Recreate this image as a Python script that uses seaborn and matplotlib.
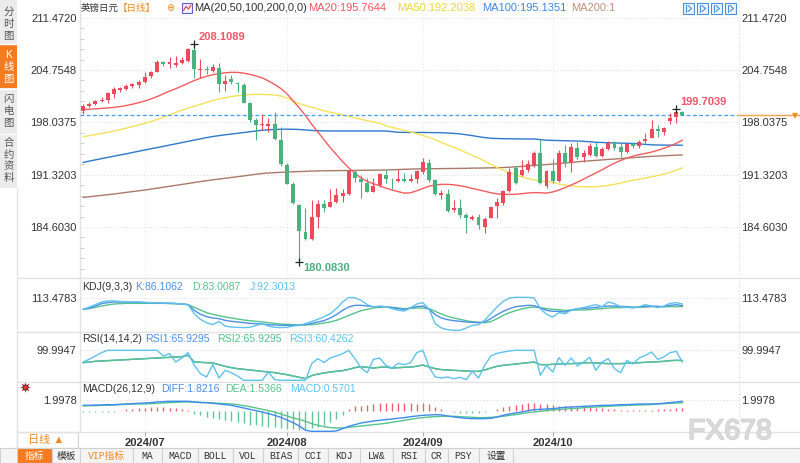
import numpy as np
import pandas as pd
import matplotlib
matplotlib.use("Agg")
import matplotlib.pyplot as plt
from matplotlib.patches import Rectangle
from matplotlib.ticker import FixedLocator
from matplotlib.transforms import blended_transform_factory
import matplotlib.patheffects as pe
import seaborn as sns

sns.set_theme(style="white")
plt.rcParams["font.family"] = ["Liberation Sans", "Noto Sans CJK SC", "DejaVu Sans"]
plt.rcParams["axes.unicode_minus"] = False

# ---------------- data (GBP/JPY daily) ----------------
start_date = "2024-06-17"

opens = [199.49, 200.20, 200.35, 200.80, 200.90, 201.68, 202.20, 202.32, 202.70, 202.83,
         203.26, 204.03, 204.54, 205.74, 205.57, 205.40, 205.66, 205.96, 207.33, 204.80,
         204.88, 204.63, 205.05, 202.92, 203.56, 203.00, 202.83, 200.48, 198.34, 197.65,
         197.60, 197.78, 195.77, 192.56, 190.08, 187.43, 183.92, 183.06, 185.93, 187.51,
         187.21, 187.77, 188.63, 188.80, 191.70, 190.77, 190.25, 189.14, 189.99, 191.28,
         190.50, 190.51, 190.72, 190.51, 190.77, 191.71, 192.78, 190.60, 188.71, 188.84,
         186.78, 187.00, 186.14, 185.60, 185.93, 184.65, 185.80, 187.34, 187.64, 189.23,
         192.14, 191.28, 191.88, 192.57, 194.06, 189.91, 191.80, 190.51, 194.06, 192.78,
         194.70, 193.63, 193.85, 194.92, 193.76, 194.62, 195.47, 194.92, 194.19, 195.21,
         195.04, 195.64, 196.07, 197.14, 196.84, 198.21, 198.77, 199.41]
highs = [200.40, 200.70, 200.90, 201.30, 201.98, 202.62, 202.60, 202.96, 203.13, 203.47,
         204.54, 204.63, 206.04, 205.91, 206.47, 206.55, 206.43, 207.54, 208.1089, 206.17,
         205.30, 205.48, 205.61, 204.10, 204.12, 203.26, 203.05, 200.69, 198.55, 199.07,
         198.55, 199.33, 197.48, 192.78, 190.42, 187.51, 187.00, 188.07, 188.07, 188.07,
         189.44, 189.57, 189.48, 191.93, 191.93, 191.28, 190.85, 190.85, 191.49, 191.97,
         190.85, 192.00, 191.49, 191.36, 191.93, 193.42, 193.33, 190.77, 189.35, 189.44,
         188.07, 188.16, 186.44, 186.14, 186.27, 185.93, 187.30, 188.37, 189.31, 192.14,
         192.44, 193.20, 193.20, 194.36, 195.90, 191.93, 193.33, 194.49, 195.13, 195.34,
         195.56, 194.49, 195.34, 195.47, 194.92, 195.64, 195.64, 195.34, 195.47, 195.47,
         195.77, 196.63, 198.34, 197.69, 197.48, 199.20, 199.7039, 199.50]
lows = [199.07, 200.00, 200.26, 200.70, 200.48, 201.10, 201.97, 202.15, 202.40, 202.40,
        203.05, 203.77, 204.46, 205.27, 204.97, 205.19, 205.57, 205.83, 203.69, 203.69,
        204.20, 204.54, 201.90, 202.06, 202.92, 201.98, 200.48, 198.13, 195.77, 197.06,
        196.84, 195.77, 192.48, 190.08, 187.51, 180.083, 182.93, 182.93, 184.52, 186.57,
        187.21, 187.64, 187.86, 188.71, 190.42, 188.28, 189.14, 189.05, 189.78, 190.20,
        189.48, 190.42, 190.42, 190.34, 190.20, 191.36, 190.42, 188.71, 188.20, 186.57,
        186.57, 185.72, 183.88, 185.50, 184.35, 183.88, 185.80, 185.80, 187.43, 189.14,
        190.08, 191.20, 191.71, 192.35, 190.08, 189.57, 190.21, 190.42, 192.35, 191.71,
        193.33, 192.91, 193.76, 193.63, 193.63, 194.49, 194.49, 193.63, 194.06, 194.70,
        194.70, 195.34, 195.98, 196.20, 196.41, 197.78, 197.91, 198.98]
closes = [200.14, 200.35, 200.78, 200.90, 201.76, 202.28, 202.40, 202.75, 202.92, 203.22,
          203.90, 204.46, 205.74, 205.49, 205.83, 205.66, 206.00, 207.45, 204.84, 204.88,
          204.80, 205.18, 202.92, 203.39, 203.17, 202.95, 200.56, 198.34, 197.70, 197.82,
          197.86, 195.90, 192.65, 190.12, 187.64, 184.09, 183.06, 185.93, 187.51, 187.00,
          187.77, 188.71, 188.93, 191.80, 190.94, 190.34, 189.14, 189.91, 191.36, 190.77,
          190.45, 190.72, 190.51, 190.77, 191.80, 192.90, 190.64, 188.80, 188.93, 186.66,
          186.99, 186.14, 185.72, 185.93, 184.86, 185.63, 187.17, 187.77, 189.23, 191.62,
          190.21, 191.93, 192.65, 194.06, 190.21, 191.80, 190.51, 194.06, 192.78, 194.92,
          193.63, 194.06, 195.05, 193.76, 194.62, 195.43, 194.79, 194.19, 195.21, 195.04,
          195.56, 195.90, 197.14, 196.93, 197.27, 198.64, 199.33, 198.94]

ma20 = [199.67, 199.72, 199.77, 199.83, 199.89, 199.96, 200.06, 200.20, 200.37, 200.56,
        200.78, 201.05, 201.35, 201.70, 202.05, 202.35, 202.70, 203.05, 203.40, 203.70,
        203.95, 204.15, 204.30, 204.40, 204.46, 204.45, 204.35, 204.20, 204.00, 203.75,
        203.35, 202.90, 202.40, 201.70, 200.80, 199.90, 198.90, 197.80, 196.80, 195.80,
        194.80, 193.90, 193.00, 192.20, 191.50, 190.90, 190.45, 190.15, 189.90, 189.60,
        189.35, 189.15, 188.95, 189.00, 189.25, 189.55, 189.85, 190.00, 190.08, 190.08,
        190.02, 189.90, 189.75, 189.55, 189.38, 189.20, 189.00, 188.85, 188.80, 188.78,
        188.80, 188.88, 188.97, 189.02, 189.00, 188.95, 189.10, 189.35, 189.65, 190.00,
        190.35, 190.75, 191.15, 191.55, 191.95, 192.40, 192.80, 193.15, 193.45, 193.70,
        193.90, 194.05, 194.22, 194.45, 194.70, 195.00, 195.35, 195.76]
ma50 = [196.20, 196.33, 196.47, 196.60, 196.75, 196.92, 197.10, 197.30, 197.50, 197.70,
        197.91, 198.15, 198.40, 198.70, 199.00, 199.30, 199.60, 199.85, 200.10, 200.35,
        200.60, 200.85, 201.05, 201.20, 201.35, 201.46, 201.55, 201.60, 201.63, 201.63,
        201.60, 201.55, 201.42, 201.15, 200.75, 200.45, 200.20, 199.98, 199.75, 199.52,
        199.33, 199.18, 199.00, 198.82, 198.62, 198.42, 198.25, 198.10, 197.92, 197.60,
        197.40, 197.20, 197.00, 196.82, 196.60, 196.35, 196.10, 195.80, 195.45, 195.13,
        194.82, 194.50, 194.15, 193.80, 193.45, 193.05, 192.65, 192.25, 191.90, 191.60,
        191.30, 191.05, 190.82, 190.65, 190.52, 190.43, 190.30, 190.12, 189.98, 189.88,
        189.80, 189.77, 189.76, 189.78, 189.85, 189.95, 190.08, 190.25, 190.45, 190.60,
        190.75, 190.90, 191.05, 191.22, 191.38, 191.62, 191.90, 192.20]
ma100 = [192.90, 193.06, 193.22, 193.38, 193.54, 193.70, 193.85, 194.00, 194.17, 194.33,
         194.49, 194.65, 194.80, 194.96, 195.12, 195.28, 195.44, 195.60, 195.76, 195.92,
         196.08, 196.22, 196.33, 196.44, 196.54, 196.63, 196.73, 196.83, 196.93, 197.02,
         197.08, 197.13, 197.15, 197.16, 197.15, 197.12, 197.06, 197.00, 196.96, 196.94,
         196.93, 196.93, 196.93, 196.93, 196.93, 196.93, 196.93, 196.93, 196.93, 196.93,
         196.85, 196.76, 196.75, 196.75, 196.74, 196.74, 196.73, 196.72, 196.71, 196.67,
         196.62, 196.56, 196.45, 196.33, 196.20, 196.08, 196.00, 195.96, 195.94, 195.93,
         195.92, 195.91, 195.90, 195.90, 195.82, 195.75, 195.72, 195.70, 195.68, 195.66,
         195.64, 195.60, 195.55, 195.48, 195.45, 195.42, 195.40, 195.37, 195.35, 195.32,
         195.27, 195.21, 195.15, 195.13, 195.12, 195.11, 195.11, 195.10]
ma200 = [188.41, 188.49, 188.58, 188.66, 188.75, 188.84, 188.94, 189.05, 189.15, 189.25,
         189.35, 189.47, 189.59, 189.71, 189.83, 189.95, 190.07, 190.19, 190.31, 190.43,
         190.55, 190.66, 190.76, 190.86, 190.96, 191.06, 191.16, 191.27, 191.38, 191.47,
         191.53, 191.58, 191.62, 191.66, 191.69, 191.72, 191.75, 191.78, 191.80, 191.82,
         191.83, 191.84, 191.85, 191.86, 191.87, 191.88, 191.89, 191.90, 191.91, 191.92,
         191.95, 191.98, 192.01, 192.04, 192.06, 192.07, 192.08, 192.09, 192.10, 192.11,
         192.12, 192.13, 192.14, 192.16, 192.17, 192.18, 192.20, 192.21, 192.24, 192.28,
         192.33, 192.38, 192.44, 192.50, 192.56, 192.62, 192.68, 192.75, 192.82, 192.90,
         192.97, 193.04, 193.10, 193.16, 193.22, 193.28, 193.33, 193.39, 193.45, 193.51,
         193.57, 193.62, 193.67, 193.71, 193.75, 193.79, 193.82, 193.85]

kdj_k = [72.5, 77.5, 85, 93.8, 97.5, 100, 100, 100, 98.8, 98.8, 97.5, 97.5, 96.3, 96.3, 95, 93.8,
         92.5, 90, 68.8, 53.8, 45, 40, 37.5, 31.3, 27.5, 25, 22.5, 20, 18.8, 17.5, 15, 13.8,
         12.5, 12.5, 12.5, 13.8, 15, 20, 25, 30, 40, 52.5, 68.8, 81.3, 87.5, 87.5, 85, 82.5,
         82.5, 82.5, 78.8, 75, 72.5, 77.5, 82.5, 85, 72.5, 52.5, 40, 33.8, 30, 27.5, 25, 23.8,
         22.5, 25, 37.5, 52.5, 65, 75, 82.5, 85, 87.5, 86.3, 77.5, 68.8, 65, 65, 62.5, 70,
         75, 76.3, 77.5, 80, 82.5, 85, 85, 83.8, 82.5, 80, 81.3, 83.8, 85, 83.8, 82.5, 87.5,
         90, 86.1]
kdj_d = [72.5, 75, 80, 85, 88.8, 92.5, 93.8, 95, 95, 95, 95, 95, 95, 95, 93.8, 93.8,
         92.5, 90, 80, 70, 60, 53.8, 48.8, 43.8, 40, 36.3, 32.5, 30, 27.5, 25, 22.5, 20,
         17.5, 16.3, 15, 13.8, 13.8, 15, 17.5, 21.3, 25, 31.3, 40, 50, 58.8, 67.5, 72.5, 77.5,
         80, 81.3, 80, 77.5, 75, 76.3, 77.5, 77.5, 75, 65, 55, 46.3, 40, 35, 30, 26.3,
         23.8, 22.5, 26.3, 37.5, 50, 60, 67.5, 73.8, 78.8, 81.3, 78.8, 75, 72.5, 71.3, 68.8, 68.8,
         70, 70, 71.3, 73.8, 75, 77.5, 78.8, 78.8, 80, 80, 80, 81.3, 82.5, 82.5, 82.5, 82.5,
         82.5, 83.0]
kdj_j = [72, 81, 90, 100, 104, 104, 102, 101, 100, 100, 99, 97, 97, 96, 96, 95,
         92, 90, 56, 35, 22, 15, 27, 10, 6, 5, 4, 5, 12, 18, 10, 5,
         4, 5, 10, 12, 19, 27, 35, 45, 56, 75, 100, 117, 116, 106, 90, 81,
         85, 82, 75, 68.8, 66.3, 77.5, 92.5, 97.5, 72.5, 18.8, 2.5, -3.8, -6.3, -6.3, 2.5, 12.5,
         15, 31.3, 56.3, 81.3, 102.5, 115, 117.5, 117.5, 117.5, 115, 75, 53.8, 43.8, 60, 56.3, 68.8,
         75, 78.8, 85, 90, 82.5, 100, 93.8, 81.3, 80, 77.5, 82.5, 90, 85, 78.8, 85, 95,
         97.5, 92.3]

rsi14 = [58.9, 61.1, 63.3, 64.4, 65.6, 66.7, 67.8, 68.9, 70, 71.1, 72.2, 73.3, 74.4, 75.6, 76.7, 77.8,
         78.9, 83.3, 61.1, 60, 58.9, 57.8, 52.2, 46.7, 42.2, 38.9, 36.7, 34.4, 32.2, 30, 27.8, 25.6,
         22.2, 18.9, 14.4, 10, 5.6, 15.6, 21.1, 24.4, 27.8, 30, 32.2, 36.7, 42.2, 45.6, 43.3, 41.1,
         43.3, 44.4, 41.1, 42.2, 43.3, 44.4, 46.7, 51.1, 44.4, 38.9, 35.6, 34.4, 33.3, 32.2, 31.1, 30,
         30, 34.4, 41.1, 46.7, 50, 52.2, 54.4, 56.7, 58.9, 61.1, 52.2, 52.2, 53.3, 54.4, 55.6, 55.6,
         56.7, 57.8, 58.9, 57.8, 56.7, 55.6, 55.6, 55.6, 56.7, 57.8, 58.9, 60, 61.1, 62.2, 63.3, 65.6,
         66.7, 65.9]
rsi2 = [61.1, 70, 81.1, 92.2, 100, 100, 100, 100, 100, 100, 100, 100, 100, 81.1, 88.9, 61.1,
        74.4, 92.2, 50, 22.2, 11.1, 52.2, 7.8, 33.3, 25.6, 14.4, 0, 0, 0, 0, 27.8, 2.2,
        0, 0, 0, 0, 0, 55.6, 72.2, 58.9, 74.4, 81.1, 88.9, 100, 72.2, 41.1, 25.6, 70,
        74.4, 50, 41.1, 56.7, 52.2, 58.9, 92.2, 100, 44.4, 11.1, 7.8, 11.1, 5.6, 10, 2.2, 30,
        7.8, 50, 81.1, 90, 94.4, 97.8, 100, 100, 100, 100, 16.7, 50, 27.8, 75.6, 50, 74.4,
        47.8, 61.1, 76.7, 33.3, 61.1, 72.2, 38.9, 25.6, 66.7, 54.4, 74.4, 83.3, 94.4, 70, 77.8, 92.2,
        96.7, 60.4]

macd_diff = [1.04, 1.04, 1.10, 1.10, 1.17, 1.17, 1.23, 1.30, 1.36, 1.43, 1.49, 1.56, 1.69, 1.75, 1.82, 1.82,
             1.82, 1.82, 1.69, 1.56, 1.56, 1.43, 1.30, 1.17, 1.04, 0.78, 0.52, 0.26, 0.00, -0.26, -0.58, -0.91,
             -1.30, -1.82, -2.34, -2.99, -3.83, -4.03, -4.03, -4.03, -4.03, -3.96, -3.51, -3.05, -2.73, -2.40, -2.21, -2.01,
             -1.88, -1.75, -1.62, -1.49, -1.36, -1.17, -1.04, -0.91, -0.84, -0.78, -0.84, -1.04, -1.23, -1.36, -1.49, -1.56,
             -1.56, -1.56, -1.49, -1.23, -0.91, -0.65, -0.45, -0.26, 0.00, 0.19, 0.26, 0.32, 0.39, 0.52, 0.65, 0.71,
             0.78, 0.84, 0.91, 0.97, 1.04, 1.04, 1.10, 1.17, 1.17, 1.23, 1.30, 1.30, 1.30, 1.36, 1.43, 1.56,
             1.69, 1.82]
macd_dea = [0.91, 0.97, 0.97, 1.04, 1.04, 1.10, 1.17, 1.23, 1.30, 1.30, 1.30, 1.36, 1.43, 1.49, 1.56, 1.62,
            1.69, 1.69, 1.69, 1.62, 1.56, 1.49, 1.43, 1.36, 1.30, 1.17, 0.97, 0.78, 0.52, 0.26, 0.00, -0.26,
            -0.65, -1.04, -1.43, -1.69, -2.08, -2.53, -2.86, -3.12, -3.31, -3.38, -3.38, -3.25, -3.12, -2.99, -2.86, -2.73,
            -2.60, -2.47, -2.27, -2.08, -1.88, -1.69, -1.49, -1.36, -1.23, -1.17, -1.10, -1.10, -1.10, -1.17, -1.23, -1.30,
            -1.36, -1.36, -1.30, -1.23, -1.10, -0.91, -0.78, -0.58, -0.39, -0.26, -0.13, 0.00, 0.13, 0.19, 0.32, 0.39,
            0.45, 0.58, 0.65, 0.71, 0.78, 0.84, 0.91, 0.97, 1.02, 1.06, 1.10, 1.14, 1.20, 1.28, 1.35, 1.42,
            1.48, 1.54]
macd_hist = [-0.2, -0.2, -0.2, -0.2, -0.2, -0.2, -0.1, 0.3, 0.4, 0.5, 0.6, 0.7, 0.75, 0.75, 0.6, 0.45,
             0.25, 0.05, -0.6, -0.9, -1.2, -1.4, -1.6, -1.9, -2.1, -2.2, -2.5, -2.7, -2.8, -3.0, -3.1, -3.2,
             -3.4, -3.5, -3.6, -3.8, -3.6, -3.4, -3.2, -2.8, -2.2, -1.6, -0.9, 0.4, 0.9, 1.0, 1.15, 1.3,
             1.5, 1.5, 1.4, 1.4, 1.4, 1.4, 1.3, 1.4, 1.2, 0.7, 0.4, -0.15, -0.35, -0.4, -0.4, -0.4,
             -0.4, -0.25, -0.1, 0.4, 0.7, 0.9, 1.1, 1.3, 1.5, 1.55, 1.35, 1.2, 1.05, 0.95, 0.9, 0.9,
             0.8, 0.7, 0.65, 0.55, 0.5, 0.4, 0.3, 0.2, 0.2, 0.15, 0.2, 0.2, 0.2, 0.25, 0.25, 0.35,
             0.5, 0.57]

price_ticks = [211.4720, 204.7548, 198.0375, 191.3203, 184.6030]
kdj_ticks = [113.4783]
rsi_ticks = [99.9947]
macd_ticks = [1.9978]

toolbar_labels = ["指标", "模板", "VIP指标", "MA", "MACD", "BOLL", "VOL", "BIAS", "CCI",
                  "KDJ", "LW&", "RSI", "CR", "PSY", "设置"]
toolbar_edges = [17, 52, 80, 133, 162, 198, 233, 263, 298, 328, 360, 393, 425, 448, 479, 513]

# ---------------- derived helpers ----------------
opens, highs, lows, closes = map(np.array, (opens, highs, lows, closes))
n = len(closes)
idx = np.arange(n)
dates = pd.bdate_range(start_date, periods=n)
month_idx = [i for i in range(1, n) if dates[i].month != dates[i - 1].month]
month_lbl = [dates[i].strftime("%Y/%m") for i in month_idx]

RED, GREEN = "#ef4a5c", "#4ab27c"
C_MA20, C_MA50, C_MA100, C_MA200 = "#f25c5f", "#f6e25a", "#2f78cc", "#a87a6a"
C_BLUE, C_GREEN, C_CYAN = "#4d8fe8", "#55c48c", "#5fc2ec"
TXT = "#333333"

W, H = 800, 463
fig = plt.figure(figsize=(W / 100, H / 100), dpi=100)
fig.patch.set_facecolor("white")


def px_axes(x0, y0, x1, y1):
    return fig.add_axes([x0 / W, 1 - y1 / H, (x1 - x0) / W, (y1 - y0) / H])


# overlay in pixel coordinates for the UI chrome
over = px_axes(0, 0, W, H)
over.set_xlim(0, W)
over.set_ylim(H, 0)
over.axis("off")

x_lo = -3 / 6.18
x_hi = x_lo + 658 / 6.18

ax_main = px_axes(80, 0, 738, 278)
ax_kdj = px_axes(80, 278, 738, 332)
ax_rsi = px_axes(80, 332, 738, 382)
ax_macd = px_axes(80, 382, 738, 432)


def style(ax, ylim, ticks):
    ax.set_facecolor("none")
    ax.set_xlim(x_lo, x_hi)
    ax.set_ylim(*ylim)
    for s in ax.spines.values():
        s.set_visible(False)
    ax.set_yticks(ticks)
    ax.set_yticklabels([f"{t:.4f}" for t in ticks])
    ax.tick_params(axis="y", which="major", length=0, labelsize=8, labelcolor=TXT,
                   labelleft=True, labelright=True, pad=2.5)
    ax.tick_params(axis="x", length=0, labelbottom=False)
    ax.grid(False)
    ax.grid(axis="y", color="#dedede", ls=(0, (1, 2)), lw=0.8)
    for m in month_idx:
        ax.axvline(m, color="#e8e8e8", ls=(0, (1, 2)), lw=0.8, zorder=0)
    ax.set_xlabel("")
    ax.set_ylabel("")


style(ax_main, (211.472 - (278 - 17.7) / 7.79, 211.472 + 17.7 / 7.79), price_ticks)
style(ax_kdj, (-12.5, 190), kdj_ticks)
style(ax_rsi, (-5.6, 161.1), rsi_ticks)
style(ax_macd, (-4.16, 5.58), macd_ticks)

# minor ticks on the left edge of the price panel
minor = [price_ticks[-1] + k * (price_ticks[0] - price_ticks[1]) / 5 for k in range(-5, 25)]
ax_main.yaxis.set_minor_locator(FixedLocator(minor))
ax_main.tick_params(axis="y", which="minor", left=True, right=False, direction="in",
                    length=3, width=0.6, color="#c8c8c8")

# ---------------- price panel ----------------
for vals, c in [(ma200, C_MA200), (ma100, C_MA100), (ma50, C_MA50), (ma20, C_MA20)]:
    sns.lineplot(x=idx, y=vals, ax=ax_main, color=c, lw=1.0, zorder=2)

col = np.where(closes >= opens, RED, GREEN)
ax_main.vlines(idx, lows, highs, colors=col, lw=0.8, zorder=3)
body_lo = np.minimum(opens, closes)
body_h = np.maximum(np.abs(closes - opens), 0.08)
ax_main.bar(idx, body_h, bottom=body_lo, width=0.64, color=col, lw=0, zorder=4)

ax_main.axhline(closes[-1], color="#3f9cf0", ls=(0, (3, 2)), lw=0.9, zorder=2)
ax_main.axhline(closes[-1], xmin=1.0, xmax=(W - 80) / 658, color="#f5a04a", lw=1.0,
                clip_on=False)
tr = blended_transform_factory(ax_main.transAxes, ax_main.transData)
ax_main.text((795 - 80) / 658, closes[-1], "▼", transform=tr, ha="center", va="center",
             fontsize=5.5, color="#f08a24", family=["DejaVu Sans"], clip_on=False)

hi_i = int(np.argmax(highs))
lo_i = int(np.argmin(lows))
re_i = lo_i + int(np.argmax(highs[lo_i:]))
for i, v, c, dy in [(hi_i, highs[hi_i], "#f05566", 7), (lo_i, lows[lo_i], "#4caf7d", -6),
                    (re_i, highs[re_i], "#f05566", 7)]:
    ax_main.plot(i, v, marker="+", color="#222222", ms=6, mew=0.9, zorder=6)
    ax_main.annotate(f"{v:.4f}", xy=(i, v), xytext=(4, dy), textcoords="offset pixels",
                     ha="left", va="center", fontsize=8, color=c, fontweight="semibold")

# ---------------- KDJ ----------------
sns.lineplot(x=idx, y=kdj_d, ax=ax_kdj, color=C_GREEN, lw=1.0)
sns.lineplot(x=idx, y=kdj_k, ax=ax_kdj, color=C_BLUE, lw=1.0)
sns.lineplot(x=idx, y=kdj_j, ax=ax_kdj, color=C_CYAN, lw=1.0)

# ---------------- RSI ----------------
sns.lineplot(x=idx, y=rsi14, ax=ax_rsi, color=C_BLUE, lw=1.0)
sns.lineplot(x=idx, y=rsi14, ax=ax_rsi, color=C_GREEN, lw=1.0)
sns.lineplot(x=idx, y=rsi2, ax=ax_rsi, color=C_CYAN, lw=1.0)

# ---------------- MACD ----------------
hist = np.array(macd_hist)
ax_macd.vlines(idx, 0, hist, colors=np.where(hist >= 0, "#f0606c", "#62c596"), lw=1.0)
sns.lineplot(x=idx, y=macd_dea, ax=ax_macd, color=C_GREEN, lw=1.0)
sns.lineplot(x=idx, y=macd_diff, ax=ax_macd, color="#3d8af0", lw=1.0)

ax_macd.set_xticks(month_idx)
ax_macd.set_xticklabels(month_lbl, fontsize=8, fontweight="bold", color=TXT)
for t in ax_macd.get_xticklabels():
    t.set_ha("left")
ax_macd.tick_params(axis="x", bottom=True, length=3, width=0.7, color="#aaaaaa",
                    labelbottom=True, pad=1)
for ax in (ax_main, ax_kdj, ax_rsi):
    ax.set_xticks(month_idx)
    ax.tick_params(axis="x", length=0, labelbottom=False)

# ---------------- chrome ----------------
# left tab strip
over.add_patch(Rectangle((0, 0), 17, 188, fc="#ebebeb", lw=0))
over.add_patch(Rectangle((0, 44), 17, 44, fc="#f47b20", lw=0))
for yy in (43.5, 88.5, 133.5):
    over.plot([0, 17], [yy, yy], color="white", lw=1)
tabs = [("分时图", 12, "#555555"), ("K线图", 55, "white"), ("闪电图", 99, "#555555"),
        ("合约资料", 143, "#555555")]
for label, y0, c in tabs:
    for k, ch in enumerate(label):
        over.text(8.5, y0 + k * 11.8, ch, ha="center", va="center", fontsize=7.5, color=c)
over.plot([17, 17], [188, 448], color="#e2e2e2", lw=1)

# panel frame lines
for yy in (278, 332, 382, 432):
    over.plot([17, W], [yy, yy], color="#e2e2e2", lw=1)
over.plot([80, 80], [0, 432], color="#e2e2e2", lw=1)
over.plot([739, 739], [0, 432], color="#d9d9d9", lw=0.8, ls=(0, (1, 2)))

# title row
over.text(81, 8, "英镑日元", ha="left", va="center", fontsize=6.8, color=TXT)
over.text(118, 8, "【日线】", ha="left", va="center", fontsize=6.8, color="#f08a24")
over.text(170, 8, "⊕", ha="center", va="center", fontsize=7, color="#f08a24",
          family=["DejaVu Sans"])
over.add_patch(Rectangle((182, 3), 10, 10, fc="#eef3fb", ec="#6a5acd", lw=0.8))
over.plot([183.5, 186, 188.5, 191], [10.5, 6.5, 9, 5], color="#e04040", lw=0.8)
title_parts = [("MA(20,50,100,200,0,0)", 194, TXT), ("MA20:195.7644", 308, "#f25562"),
               ("MA50:192.2038", 397, "#f0d43c"), ("MA100:195.1351", 482, "#3d88dd"),
               ("MA200:1", 571, "#c4907a")]
for s, x0, c in title_parts:
    over.text(x0, 8, s, ha="left", va="center", fontsize=8, color=c)

# top-right buttons
for x0 in (683, 697, 711, 725):
    over.add_patch(Rectangle((x0, 3), 11, 11, fc="#eef5fd", ec="#4a90d9", lw=0.8))
    over.plot([x0 + 3, x0 + 3], [5, 12], color="#4a90d9", lw=0.8)
    over.plot([x0 + 5, x0 + 8.5, x0 + 5], [5.5, 8.5, 11.5], color="#4a90d9", lw=0.8)

# indicator titles
ind_rows = [
    (287, [("KDJ(9,3,3)", 82, TXT), ("K:86.1062", 135, C_BLUE), ("D:83.0087", 192, C_GREEN),
           ("J:92.3013", 250, C_CYAN)]),
    (339, [("RSI(14,14,2)", 82, TXT), ("RSI1:65.9295", 145, C_BLUE),
           ("RSI2:65.9295", 217, C_GREEN), ("RSI3:60.4262", 289, C_CYAN)]),
    (389, [("MACD(26,12,9)", 82, TXT), ("DIFF:1.8216", 161, C_BLUE),
           ("DEA:1.5366", 225, C_GREEN), ("MACD:0.5701", 290, C_CYAN)]),
]
for yy, parts in ind_rows:
    for s, x0, c in parts:
        over.text(x0, yy, s, ha="left", va="center", fontsize=7.6, color=c)

# MACD panel icon
over.scatter([25], [387], s=40, marker=(8, 2, 0), color="#e8323c", lw=0.6)
over.scatter([25], [387], s=14, color="#e8323c", edgecolors="#222222", lw=0.6)

# date-row box
over.add_patch(Rectangle((17, 432), 61, 16, fc="white", ec="#d5d5d5", lw=0.8))
over.text(46, 440.5, "日线 ▲", ha="center", va="center", fontsize=8, color="#f08a24")

# bottom toolbar
over.add_patch(Rectangle((0, 448), W, 15, fc="#f4f4f4", ec="#d0d0d0", lw=0.8))
for k, lab in enumerate(toolbar_labels):
    x0, x1 = toolbar_edges[k], toolbar_edges[k + 1]
    fc = "#f47b20" if k == 0 else "#f4f4f4"
    over.add_patch(Rectangle((x0, 448), x1 - x0, 15, fc=fc, ec="#d0d0d0", lw=0.8))
    c = "white" if k == 0 else ("#f08a24" if lab.startswith("VIP") else "#333333")
    fam = ["Liberation Mono", "Noto Sans CJK SC"]
    over.text((x0 + x1) / 2, 456, lab, ha="center", va="center", fontsize=7, color=c,
              family=fam)

# watermark
over.text(730, 432, "FX678", ha="center", va="center", fontsize=20.5, color="#dadada",
          path_effects=[pe.withStroke(linewidth=1.2, foreground="#cfcfcf")])

fig.savefig("out.png", dpi=100)
